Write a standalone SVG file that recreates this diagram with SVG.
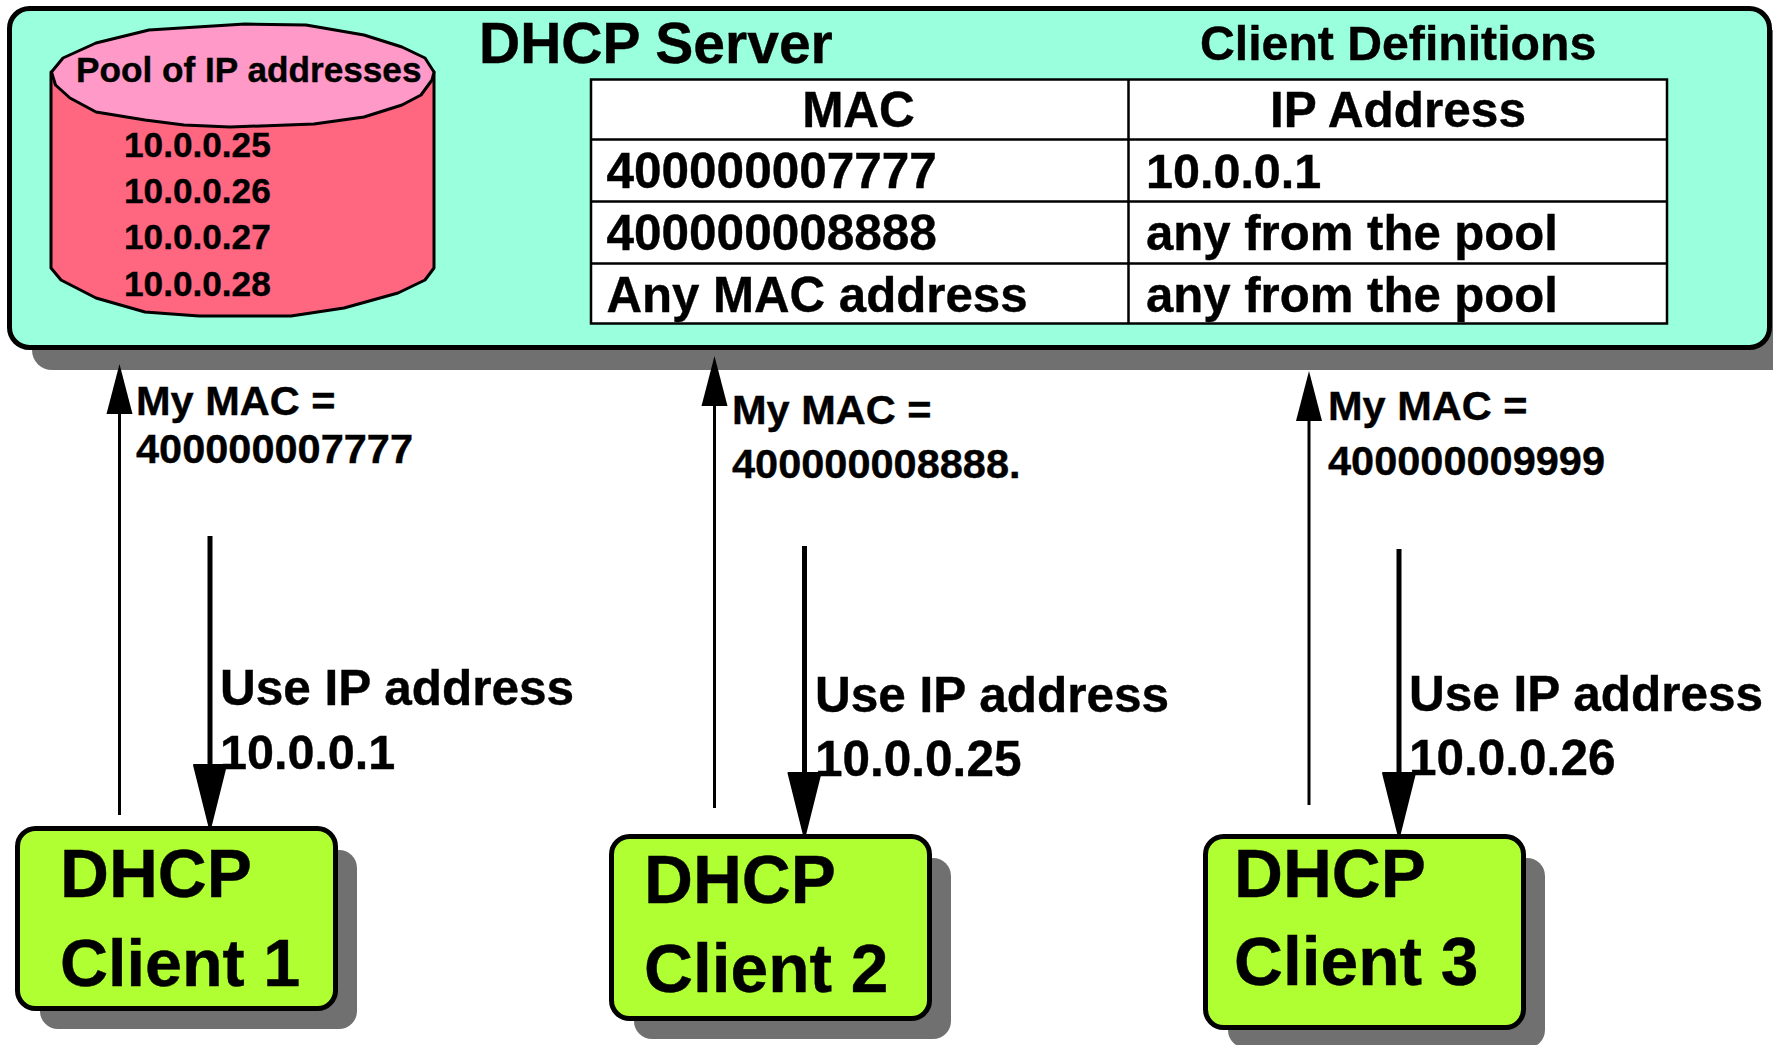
<svg xmlns="http://www.w3.org/2000/svg" width="1773" height="1045" viewBox="0 0 1773 1045">
<style>
text{font-family:"Liberation Sans",Arial,sans-serif;font-weight:700;fill:#000;stroke:#000;stroke-width:.4}
.shadow{fill:#707070}
.box{stroke:#000;stroke-width:5}
.t1{font-size:57px}.t2{font-size:49.500px}.t2b{font-size:48.200px}.t2c{font-size:48.500px}.t4{font-size:35.200px}.t5{font-size:41.500px}.t6{font-size:67.700px}.t6b{font-size:66.500px}
.thin{stroke:#000;stroke-width:3;fill:none}
.thick{stroke:#000;stroke-width:5;fill:none}
</style>
<defs>
<polygon id="headUp" points="0,-50 13,0 -13,0" fill="#000"/>
<polygon id="headDown" points="0,64 -16,0 16,0" fill="#000" stroke="#000" stroke-width="2" stroke-linejoin="round"/>
</defs>
<g id="server">
<rect class="shadow" x="32" y="30" width="1760" height="340" rx="20"/>
<rect class="box" x="9.500" y="8.500" width="1760" height="339" rx="20" fill="#99ffdd"/>
<text class="t1" x="479" y="63">DHCP Server</text>
<text class="t2b" x="1200" y="60">Client Definitions</text>
</g>
<g id="pool">
<path d="M51 72V268L61 280L96 298L145 312L199 316L291 316L344 308L398 293L425 280L434 268V72Z" fill="#ff6680" stroke="#000" stroke-width="3" stroke-linejoin="round"/>
<path d="M51.500 72L63 58L96 43L149 30L245 24L306 25L364 35L402 47L425 58L434 72L432 80L421 95L402 105L364 117L314 124L230 127L184 125L145 120L96 112L70 98L55.500 85Z" fill="#ff99c7" stroke="#000" stroke-width="3" stroke-linejoin="round"/>
<text class="t4" x="76" y="82">Pool of IP addresses</text>
<text class="t4" x="124" y="157">10.0.0.25</text>
<text class="t4" x="124" y="203">10.0.0.26</text>
<text class="t4" x="124" y="249">10.0.0.27</text>
<text class="t4" x="124" y="296">10.0.0.28</text>
</g>
<g id="table">
<rect x="591" y="79.500" width="1076" height="244" fill="#fff" stroke="#000" stroke-width="2.500"/>
<path d="M591 139.500H1667M591 201.500H1667M591 263.500H1667M1128.500 79.500V323.500" stroke="#000" stroke-width="2.500" fill="none"/>
<text class="t2" x="858.500" y="127" text-anchor="middle">MAC</text>
<text class="t2" x="1398" y="127" text-anchor="middle">IP Address</text>
<text class="t2" x="606.500" y="188">400000007777</text>
<text class="t2c" x="1146" y="188">10.0.0.1</text>
<text class="t2" x="606.500" y="250">400000008888</text>
<text class="t2" x="1146" y="250" textLength="412" lengthAdjust="spacingAndGlyphs">any from the pool</text>
<text class="t2" x="606.500" y="312" textLength="421" lengthAdjust="spacingAndGlyphs">Any MAC address</text>
<text class="t2" x="1146" y="312" textLength="412" lengthAdjust="spacingAndGlyphs">any from the pool</text>
</g>
<g id="connectors">
<path class="thin" d="M119.500 815V400"/><use href="#headUp" x="119.500" y="414"/>
<path class="thin" d="M714.500 808V400"/><use href="#headUp" x="714.500" y="406"/>
<path class="thin" d="M1309 805V400"/><use href="#headUp" x="1309" y="421"/>
<path class="thick" d="M210 536V770"/><use href="#headDown" x="210" y="765"/>
<path class="thick" d="M804.500 546V780"/><use href="#headDown" x="804.500" y="773"/>
<path class="thick" d="M1399 549V780"/><use href="#headDown" x="1399" y="773"/>
</g>
<g id="labels1">
<text class="t5" x="136" y="415">My MAC =</text><text class="t5" x="136" y="463">400000007777</text>
<text class="t2" x="220" y="705">Use IP address</text><text class="t2c" x="220" y="769">10.0.0.1</text>
</g>
<g id="labels2">
<text class="t5" x="732" y="424">My MAC =</text><text class="t5" x="732" y="478">400000008888.</text>
<text class="t2" x="815" y="712">Use IP address</text><text class="t2" x="815" y="776">10.0.0.25</text>
</g>
<g id="labels3">
<text class="t5" x="1328" y="420">My MAC =</text><text class="t5" x="1328" y="475">400000009999</text>
<text class="t2" x="1409" y="711">Use IP address</text><text class="t2" x="1409" y="775">10.0.0.26</text>
</g>
<g id="client1">
<rect class="shadow" x="40" y="850" width="317" height="179" rx="18"/>
<rect class="box" x="17.500" y="828.500" width="318" height="180" rx="18" fill="#b0ff33"/>
<text class="t6" x="60" y="897">DHCP</text><text class="t6b" x="60" y="986">Client 1</text>
</g>
<g id="client2">
<rect class="shadow" x="634" y="858" width="317" height="181" rx="18"/>
<rect class="box" x="611.500" y="836.500" width="318" height="182" rx="18" fill="#b0ff33"/>
<text class="t6" x="644" y="903">DHCP</text><text class="t6" x="644" y="992">Client 2</text>
</g>
<g id="client3">
<rect class="shadow" x="1228" y="858" width="317" height="190" rx="18"/>
<rect class="box" x="1205.500" y="836.500" width="318" height="191" rx="18" fill="#b0ff33"/>
<text class="t6" x="1234" y="897">DHCP</text><text class="t6" x="1234" y="985">Client 3</text>
</g>
</svg>
